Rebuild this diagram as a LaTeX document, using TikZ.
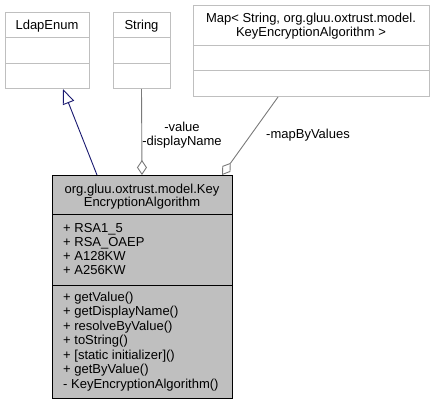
\documentclass[tikz,border=0pt]{standalone}
\usepackage{fontspec}
\setmainfont{Liberation Sans}
\usetikzlibrary{arrows.meta}
\definecolor{boxgray}{HTML}{BFBFBF}
\definecolor{edgegray}{HTML}{7A7A7A}
\definecolor{navyline}{HTML}{191970}
\tikzset{
  umlbox/.style={draw=boxgray, line width=1pt, fill=white, anchor=north west, inner sep=0pt, outer sep=0pt},
  mainbox/.style={draw=black, line width=1pt, fill=boxgray, anchor=north west, inner sep=0pt, outer sep=0pt},
  txt/.style={inner sep=0pt, font=\fontsize{13}{14}\selectfont},
  member/.style={txt, anchor=base west},
  inherit/.style={draw=navyline, line width=0.9pt, -{Triangle[open, length=15pt, width=12pt, line width=0.9pt]}},
  compo/.style={draw=edgegray, line width=0.9pt, -{Diamond[open, length=15pt, width=10pt, line width=0.9pt, fill=white]}},
  elabel/.style={txt, align=center}
}
\begin{document}
\begin{tikzpicture}[x=1pt, y=-1pt]
\useasboundingbox (0,0) rectangle (434,404);
% LdapEnum
\node[umlbox, minimum width=84pt, minimum height=76pt] (ldap) at (5,13) {};
\draw[boxgray, line width=1pt] (5,38) -- (89,38) (5,64) -- (89,64);
\node[txt, anchor=base] (ldapname) at (47,29.7) {LdapEnum};
% String
\node[umlbox, minimum width=57pt, minimum height=76pt] (string) at (113,13) {};
\draw[boxgray, line width=1pt] (113,38) -- (170,38) (113,64) -- (170,64);
\node[txt, anchor=base] (stringname) at (141.5,29.7) {String};
% Map
\node[umlbox, minimum width=236pt, minimum height=91pt] (map) at (193,6) {};
\draw[boxgray, line width=1pt] (193,46) -- (429,46) (193,71) -- (429,71);
\node[txt, anchor=base] (mapname1) at (311,23) {Map< String, org.gluu.oxtrust.model.};
\node[txt, anchor=base] (mapname2) at (311,36.4) {KeyEncryptionAlgorithm >};
% Main class
\node[mainbox, minimum width=180pt, minimum height=223pt] (main) at (52,175) {};
\draw[black, line width=1pt] (52,214) -- (232,214) (52,285) -- (232,285);
\node[txt, anchor=base] (title1) at (142,193) {org.gluu.oxtrust.model.Key};
\node[txt, anchor=base] (title2) at (142,206.4) {EncryptionAlgorithm};
\node[member] (a1) at (63,232.7) {+ RSA1\_5};
\node[member] (a2) at (63,246.6) {+ RSA\_OAEP};
\node[member] (a3) at (63,260.5) {+ A128KW};
\node[member] (a4) at (63,274.4) {+ A256KW};
\node[member] (m1) at (63,301.3) {+ getValue()};
\node[member] (m2) at (63,315.7) {+ getDisplayName()};
\node[member] (m3) at (63,330.2) {+ resolveByValue()};
\node[member] (m4) at (63,344.6) {+ toString()};
\node[member] (m5) at (63,359.1) {+ [static initializer]()};
\node[member] (m6) at (63,373.5) {+ getByValue()};
\node[member] (m7) at (63,388) {- KeyEncryptionAlgorithm()};
% Edges
\draw[inherit] ([xshift=45pt]main.north west) -- ([xshift=58pt]ldap.south west);
\draw[compo] (string.south) -- (main.north);
\draw[compo] ([xshift=85pt]map.south west) -- ([xshift=170pt]main.north west);
% Edge labels
\node[elabel] (lbl1) at (182,135.5) {-value\\-displayName};
\node[txt] (lbl2) at (308,135) {-mapByValues};
\end{tikzpicture}
\end{document}
